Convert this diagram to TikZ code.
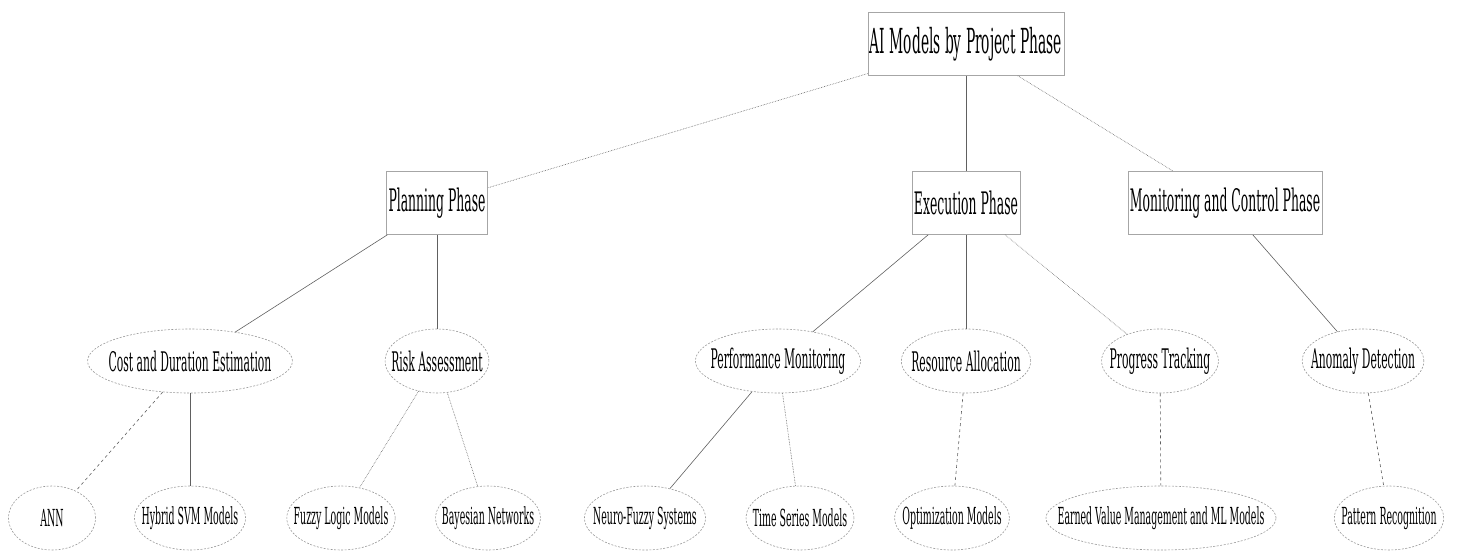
\documentclass[tikz,border=0pt]{standalone}
\usepackage{fontspec}
\setmainfont{DejaVu Serif}[FakeStretch=0.4]
\usetikzlibrary{positioning,shapes.geometric}

\begin{document}
\begin{tikzpicture}[x=1pt, y=-1pt,
    phase/.style = {draw=gray!70, line width=0.6pt, minimum height=63pt, inner xsep=2pt,
                     font=\fontsize{31}{34}\selectfont},
    task/.style  = {ellipse, draw=gray!80, line width=0.6pt, dash pattern=on 2pt off 1.5pt,
                     minimum height=64pt, minimum width=87pt, inner xsep=-9pt, inner ysep=0pt,
                     font=\fontsize{27}{30}\selectfont},
    model/.style = {task, font=\fontsize{23.5}{26}\selectfont},
    link/.style  = {draw=gray!75!black, line width=0.6pt}
    ]
\useasboundingbox (0,0) rectangle (1457,551);
\node (root) [phase, font=\fontsize{34.5}{38}\selectfont] at (966,44) {AI Models by Project Phase};
%
\node (plan) [phase] at (437,203)  {Planning Phase};
\node (exec) [phase] at (966,203)  {Execution Phase};
\node (mon)  [phase] at (1225,203) {Monitoring and Control Phase};
%
\node (cost) [task] at (190,361)  {Cost and Duration Estimation};
\node (risk) [task] at (437,361)  {Risk Assessment};
\node (perf) [task] at (778,361)  {Performance Monitoring};
\node (res)  [task] at (966,361)  {Resource Allocation};
\node (prog) [task] at (1160,361) {Progress Tracking};
\node (anom) [task] at (1363,361) {Anomaly Detection};
%
\node (ann)   [model] at (52,518)   {ANN};
\node (hyb)   [model] at (190,518)  {Hybrid SVM Models};
\node (fuzzy) [model] at (341,518)  {Fuzzy Logic Models};
\node (bayes) [model] at (488,518)  {Bayesian Networks};
\node (neuro) [model] at (645,518)  {Neuro-Fuzzy Systems};
\node (tsm)   [model] at (800,518)  {Time Series Models};
\node (opt)   [model] at (952,518)  {Optimization Models};
\node (evm)   [model, inner xsep=-22pt] at (1161,518) {Earned Value Management and ML Models};
\node (pat)   [model] at (1389,518) {Pattern Recognition};
%
\foreach \a/\b in {root/exec, plan/cost, plan/risk, cost/hyb, exec/perf, exec/res, perf/neuro, mon/anom}
    \draw[link] (\a) -- (\b);
\foreach \a/\b in {root/plan, root/mon, risk/fuzzy, risk/bayes, exec/prog, perf/tsm}
    \draw[link, densely dotted] (\a) -- (\b);
\foreach \a/\b in {cost/ann, res/opt, prog/evm, anom/pat}
    \draw[link, dashed] (\a) -- (\b);
\end{tikzpicture}
\end{document}
